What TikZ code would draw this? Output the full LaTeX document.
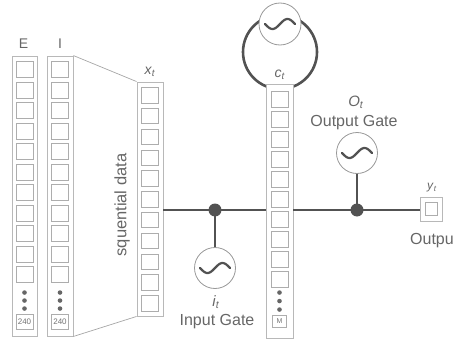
\documentclass[tikz,border=0pt]{standalone}
\usepackage{fontspec}
\setmainfont{Liberation Sans}
\usetikzlibrary{calc}
\begin{document}
\begin{tikzpicture}[x=1pt,y=-1pt,
  col/.style={draw=black!28, line width=0.9pt, fill=white, inner sep=0pt, rectangle},
  cell/.style={draw=black!32, line width=0.8pt, fill=white, inner sep=0pt, minimum width=17pt, minimum height=16pt},
  numcell/.style={cell, minimum height=15pt, font=\fontsize{8}{9}\selectfont, text=black!55},
  wire/.style={draw=black!68, line width=2.6pt},
  thin/.style={draw=black!35, line width=0.7pt},
  junc/.style={circle, fill=black!68, minimum size=13pt, inner sep=0pt},
  dotmark/.style={circle, fill=black!60, minimum size=4.6pt, inner sep=0pt},
  gatec/.style={circle, draw=black!40, line width=0.8pt, fill=white, minimum size=41pt, inner sep=0pt},
  wave/.style={draw=black!68, line width=2.2pt, line cap=round},
  lbl/.style={text=black!60, inner sep=0pt, font=\fontsize{16}{18}\selectfont},
  sub/.style={text=black!60, inner sep=0pt, font=\fontsize{14}{16}\selectfont}
]
\useasboundingbox (0,0) rectangle (453,340);
\clip (0,0) rectangle (453,340);

% embedding columns E and I
\node[col, minimum width=25pt, minimum height=280pt] (colE) at (24.5,196) {};
\node[col, minimum width=26pt, minimum height=280pt] (colI) at (60,196) {};
\foreach \c/\n in {colE/E, colI/I} {
  \foreach \i in {1,...,11}
    \node[cell] (\n\i) at ($(\c.north)+(0,14+20.5*\i-20.5)$) {};
  \foreach \k/\dy in {1/237, 2/245, 3/253}
    \node[dotmark] (\n d\k) at ($(\c.north)+(0,\dy)$) {};
  \node[numcell] (\n num) at ($(\c.north)+(0,266.5)$) {240};
}
\node[sub] (labE) at (23.5,44) {E};
\node[sub] (labI) at (60,44) {I};

% input vector x_t
\node[col, minimum width=26pt, minimum height=234pt] (colX) at (150,199) {};
\foreach \i in {1,...,11}
  \node[cell, minimum height=15.5pt] (X\i) at ($(colX.north)+(0,13.75+20.8*\i-20.8)$) {};
\node[sub] (labX) at (150,72) {\textit{x}\textsubscript{\textit{t}}};

% funnel from the embedding to x_t
\draw[thin] (colI.north east) -- (colX.north west);
\draw[thin] (colI.south east) -- (colX.south west);

\node[lbl, rotate=90, font=\fontsize{16.5}{18}\selectfont] (seq) at (122,205) {squential data};

% recurrent loop over the memory cell
\node[circle, draw=black!68, line width=2.6pt, minimum size=74pt, inner sep=0pt] (loop) at (280,52) {};

% memory cell c_t
\node[col, minimum width=27pt, minimum height=254pt] (colC) at (279.5,211) {};
\foreach \i in {1,...,10}
  \node[cell] (C\i) at ($(colC.north)+(0,16+20*\i-20)$) {};
\foreach \k/\dy in {1/209, 2/217.5, 3/226}
  \node[dotmark] (Cd\k) at ($(colC.north)+(0,\dy)$) {};
\node[numcell, minimum width=14pt, minimum height=12pt, font=\fontsize{7}{8}\selectfont] (Cnum) at ($(colC.north)+(0,238)$) {M};
\node[sub] (labC) at (280,75) {\textit{c}\textsubscript{\textit{t}}};

% activation on the loop
\node[gatec, minimum size=42pt] (gtop) at (280,24) {};
\draw[wave, shift={(gtop.center)}] plot[domain=-15:15, samples=40] (\x, {-5*sin(12*\x)});

% main signal line
\coordinate (jin) at (215,210);
\coordinate (jout) at (357,210);
\node[col, minimum width=22pt, minimum height=24pt] (ybox) at (431,209) {};
\node[cell, minimum width=12pt, minimum height=13pt] (yin) at (ybox.center) {};
\draw[wire] (colX.east |- jin) -- (colC.west |- jin);
\draw[wire] (colC.east |- jout) -- (ybox.west |- jout);

% input gate
\node[gatec] (gin) at (215,268) {};
\draw[wire] (jin) -- (gin.north);
\draw[wave, shift={(gin.center)}] plot[domain=-15:15, samples=40] (\x, {-5*sin(12*\x)});
\node[junc] (jinN) at (jin) {};
\node[lbl, font=\fontsize{15}{17}\selectfont] (labi) at (216,302) {\textit{i}\textsubscript{\textit{t}}};
\node[lbl] (ingate) at (217,322) {Input Gate};

% output gate
\node[gatec] (gout) at (357,153) {};
\draw[wire] (gout.south) -- (jout);
\draw[wave, shift={(gout.center)}] plot[domain=-15:15, samples=40] (\x, {-5*sin(12*\x)});
\node[junc] (joutN) at (jout) {};
\node[lbl, font=\fontsize{15}{17}\selectfont] (labO) at (356,102) {\textit{O}\textsubscript{\textit{t}}};
\node[lbl] (outgate) at (354,123) {Output Gate};

% output y_t
\node[sub, font=\fontsize{12}{14}\selectfont] (laby) at (432,188) {\textit{y}\textsubscript{\textit{t}}};
\node[lbl, anchor=west] (outlab) at (410,241) {Output};
\end{tikzpicture}
\end{document}
